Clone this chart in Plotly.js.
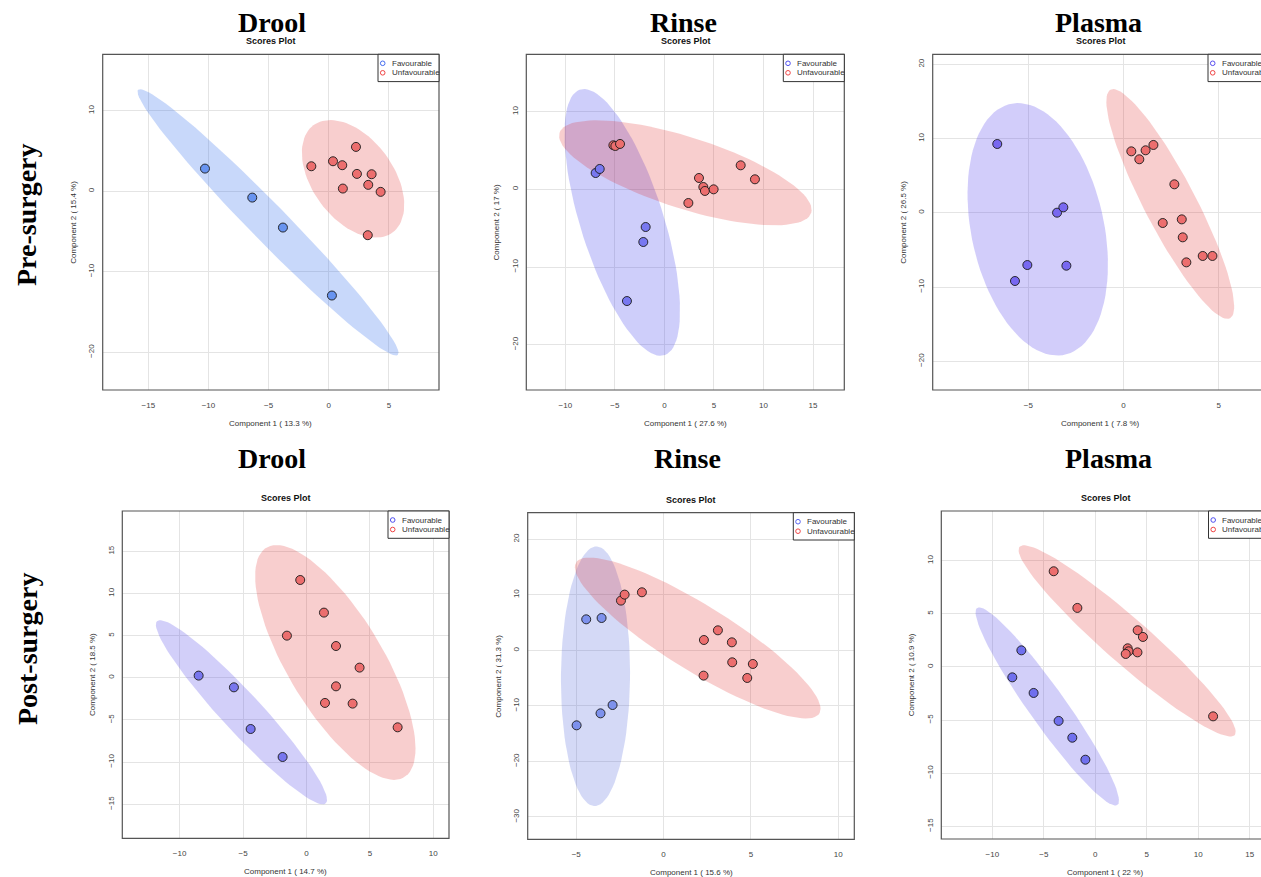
<!DOCTYPE html>
<html>
<head>
<meta charset="utf-8">
<script src="https://cdn.plot.ly/plotly-3.0.1.min.js"></script>
<style>html,body{margin:0;padding:0;background:#fff;}#chart{width:1261px;height:877px;}</style>
</head>
<body>
<div id="chart"></div>
<script>
// ---------- DATA ----------
const rowLabels = ['Pre-surgery', 'Post-surgery'];
const sampleTypes = ['Drool', 'Rinse', 'Plasma'];
const subTitle = 'Scores Plot';
const groupNames = ['Favourable', 'Unfavourable'];

const xTitles = ['Component 1 ( 13.3 %)', 'Component 1 ( 27.6 %)', 'Component 1 ( 7.8 %)',
                 'Component 1 ( 14.7 %)', 'Component 1 ( 15.6 %)', 'Component 1 ( 22 %)'];
const yTitles = ['Component 2 ( 15.4 %)', 'Component 2 ( 17 %)', 'Component 2 ( 26.5 %)',
                 'Component 2 ( 18.5 %)', 'Component 2 ( 31.3 %)', 'Component 2 ( 10.9 %)'];

// Pre-surgery Drool
const preDroolFavX = [-10.29, -6.36, -3.81, 0.26];
const preDroolFavY = [2.81, -0.79, -4.51, -12.95];
const preDroolUnfX = [-1.45, 0.35, 1.12, 2.26, 2.34, 3.56, 3.28, 1.17, 4.31, 3.24];
const preDroolUnfY = [3.10, 3.72, 3.23, 5.50, 2.15, 2.11, 0.79, 0.33, -0.08, -5.46];

// Pre-surgery Rinse
const preRinseFavX = [-6.94, -6.53, -1.89, -2.13, -3.78];
const preRinseFavY = [2.10, 2.62, -4.85, -6.78, -14.38];
const preRinseUnfX = [-5.15, -4.95, -4.48, 3.49, 3.93, 4.09, 4.97, 2.42, 7.70, 9.14];
const preRinseUnfY = [5.67, 5.58, 5.84, 1.46, 0.30, -0.21, 0.00, -1.76, 3.09, 1.29];

// Pre-surgery Plasma
const prePlasmaFavX = [-6.63, -3.49, -3.16, -5.05, -5.70, -3.00];
const prePlasmaFavY = [9.27, 0.02, 0.74, -7.03, -9.18, -7.12];
const prePlasmaUnfX = [0.41, 0.83, 1.16, 1.57, 2.67, 3.06, 2.06, 3.11, 3.30, 4.16, 4.67];
const prePlasmaUnfY = [8.28, 7.21, 8.42, 9.14, 3.84, -0.88, -1.37, -3.30, -6.67, -5.81, -5.81];

// Post-surgery Drool
const postDroolFavX = [-8.50, -5.72, -4.40, -1.88];
const postDroolFavY = [0.26, -1.13, -6.07, -9.39];
const postDroolUnfX = [-0.49, 1.38, -1.54, 2.33, 4.19, 2.33, 1.46, 3.64, 7.19];
const postDroolUnfY = [11.60, 7.73, 5.00, 3.77, 1.21, -1.01, -2.98, -3.06, -5.87];

// Post-surgery Rinse
const postRinseFavX = [-4.43, -3.55, -4.98, -3.61, -2.92];
const postRinseFavY = [5.59, 5.83, -13.50, -11.34, -9.84];
const postRinseUnfX = [-2.44, -2.23, -1.24, 2.31, 3.11, 3.91, 3.93, 5.11, 2.29, 4.79];
const postRinseUnfY = [8.96, 10.04, 10.46, 1.87, 3.61, 1.45, -2.15, -2.45, -4.55, -4.97];

// Post-surgery Plasma
const postPlasmaFavX = [-7.18, -8.06, -5.99, -3.56, -2.23, -0.96];
const postPlasmaFavY = [1.56, -0.98, -2.45, -5.08, -6.66, -8.73];
const postPlasmaUnfX = [-4.04, -1.74, 4.12, 4.63, 3.15, 3.24, 2.96, 4.10, 11.45];
const postPlasmaUnfY = [9.00, 5.55, 3.45, 2.82, 1.75, 1.47, 1.22, 1.37, -4.65];

// Tick values per panel
const xTickVals = [[-15, -10, -5, 0, 5], [-10, -5, 0, 5, 10, 15], [-5, 0, 5],
                   [-10, -5, 0, 5, 10], [-5, 0, 5, 10], [-10, -5, 0, 5, 10, 15]];
const yTickVals = [[-20, -10, 0, 10], [-20, -10, 0, 10], [-20, -10, 0, 10, 20],
                   [-15, -10, -5, 0, 5, 10, 15], [-30, -20, -10, 0, 10, 20], [-15, -10, -5, 0, 5, 10]];

const panelData = [
  [preDroolFavX, preDroolFavY, preDroolUnfX, preDroolUnfY],
  [preRinseFavX, preRinseFavY, preRinseUnfX, preRinseUnfY],
  [prePlasmaFavX, prePlasmaFavY, prePlasmaUnfX, prePlasmaUnfY],
  [postDroolFavX, postDroolFavY, postDroolUnfX, postDroolUnfY],
  [postRinseFavX, postRinseFavY, postRinseUnfX, postRinseUnfY],
  [postPlasmaFavX, postPlasmaFavY, postPlasmaUnfX, postPlasmaUnfY]
];

// ---------- LAYOUT / STYLE ----------
const W = 1261, H = 877;
const px = v => v / W;
const py = v => 1 - v / H;

// panel boxes in pixels and axis ranges
const panels = [
  {L: 102.7, R: 439.0, T: 54.3, B: 390.0, xr: [-18.79, 9.16], yr: [-24.68, 17.00], titleX: 271.5, titleY: 23, subX: 271, subY: 41,
   favPt: 'rgb(104,148,240)', favEl: 'rgba(35,100,235,0.25)', favLeg: 'rgb(70,110,240)'},
  {L: 526.3, R: 844.3, T: 54.3, B: 390.0, xr: [-13.94, 18.16], yr: [-25.83, 17.38], titleX: 683.5, titleY: 23, subX: 685.5, subY: 41,
   favPt: 'rgb(120,120,240)', favEl: 'rgba(60,60,235,0.25)', favLeg: 'rgb(80,80,240)'},
  {L: 932.7, R: 1269.0, T: 54.3, B: 390.0, xr: [-10.02, 7.64], yr: [-23.86, 21.35], titleX: 1098.5, titleY: 23, subX: 1100.5, subY: 41,
   favPt: 'rgb(120,104,240)', favEl: 'rgba(94,76,237,0.28)', favLeg: 'rgb(90,80,240)'},
  {L: 122.3, R: 449.0, T: 511.0, B: 838.3, xr: [-14.52, 11.24], yr: [-19.03, 19.78], titleX: 271.5, titleY: 458, subX: 285.7, subY: 498.5,
   favPt: 'rgb(120,118,238)', favEl: 'rgba(80,70,232,0.26)', favLeg: 'rgb(80,80,240)'},
  {L: 527.7, R: 854.3, T: 512.7, B: 839.3, xr: [-7.78, 10.92], yr: [-34.02, 24.79], titleX: 687.5, titleY: 458, subX: 691, subY: 500,
   favPt: 'rgb(125,145,236)', favEl: 'rgba(60,80,215,0.22)', favLeg: 'rgb(90,100,240)'},
  {L: 941.3, R: 1269.5, T: 511.0, B: 839.0, xr: [-14.96, 16.93], yr: [-16.19, 14.67], titleX: 1108, titleY: 458, subX: 1105.7, subY: 498.5,
   favPt: 'rgb(112,112,238)', favEl: 'rgba(80,70,232,0.26)', favLeg: 'rgb(80,80,240)'}
];
const unfPt = 'rgb(236,110,110)';
const unfEl = 'rgba(225,30,30,0.22)';
const unfLeg = 'rgb(240,70,70)';

// 95% confidence ellipse as in ellipse::ellipse(cov, centre, level=0.95)
function ellipse(xs, ys, level, n) {
  const m = xs.length;
  const mx = xs.reduce((a, b) => a + b, 0) / m;
  const my = ys.reduce((a, b) => a + b, 0) / m;
  let sxx = 0, syy = 0, sxy = 0;
  for (let i = 0; i < m; i++) {
    sxx += (xs[i] - mx) ** 2; syy += (ys[i] - my) ** 2; sxy += (xs[i] - mx) * (ys[i] - my);
  }
  sxx /= (m - 1); syy /= (m - 1); sxy /= (m - 1);
  const sx = Math.sqrt(sxx), sy = Math.sqrt(syy);
  const r = sxy / (sx * sy);
  const d = Math.acos(r);
  const t = Math.sqrt(-2 * Math.log(1 - level)); // sqrt(qchisq(level, 2))
  const ex = [], ey = [];
  for (let k = 0; k <= n; k++) {
    const a = 2 * Math.PI * k / n;
    ex.push(t * sx * Math.cos(a + d / 2) + mx);
    ey.push(t * sy * Math.cos(a - d / 2) + my);
  }
  return [ex, ey];
}

const traces = [];
const layout = {
  width: W, height: H,
  margin: {l: 0, r: 0, t: 0, b: 0},
  paper_bgcolor: '#ffffff', plot_bgcolor: '#ffffff',
  showlegend: false,
  font: {family: 'Liberation Sans, Arial, sans-serif', color: '#333'},
  shapes: [], annotations: []
};

const sansFont = 'Liberation Sans, Arial, sans-serif';
const serifFont = 'Liberation Serif, Times New Roman, serif';

panels.forEach((p, i) => {
  const k = i + 1;
  const xa = 'x' + (k === 1 ? '' : k), ya = 'y' + (k === 1 ? '' : k);
  const xKey = 'xaxis' + (k === 1 ? '' : k), yKey = 'yaxis' + (k === 1 ? '' : k);
  const Rvis = Math.min(p.R, W);
  const xr1 = p.xr[0] + (Rvis - p.L) * (p.xr[1] - p.xr[0]) / (p.R - p.L);

  layout[xKey] = {
    domain: [px(p.L), px(Rvis)], anchor: ya, range: [p.xr[0], xr1],
    tickvals: xTickVals[i], ticks: '', showline: false, zeroline: false,
    showgrid: true, gridcolor: '#e4e4e4', gridwidth: 1,
    tickfont: {size: 8, color: '#444', family: sansFont}, ticklabelstandoff: 9
  };
  layout[yKey] = {
    domain: [py(p.B), py(p.T)], anchor: xa, range: p.yr,
    tickvals: yTickVals[i], ticks: '', showline: false, zeroline: false,
    showgrid: true, gridcolor: '#e4e4e4', gridwidth: 1, tickangle: -90,
    tickfont: {size: 8, color: '#444', family: sansFont}, ticklabelstandoff: 6
  };

  const [fx, fy, ux, uy] = panelData[i];
  const [efx, efy] = ellipse(fx, fy, 0.95, 100);
  const [eux, euy] = ellipse(ux, uy, 0.95, 100);
  traces.push({x: efx, y: efy, xaxis: xa, yaxis: ya, type: 'scatter', mode: 'lines', fill: 'toself',
               fillcolor: p.favEl, line: {width: 0, color: 'rgba(0,0,0,0)'}, hoverinfo: 'skip'});
  traces.push({x: eux, y: euy, xaxis: xa, yaxis: ya, type: 'scatter', mode: 'lines', fill: 'toself',
               fillcolor: unfEl, line: {width: 0, color: 'rgba(0,0,0,0)'}, hoverinfo: 'skip'});
  traces.push({x: fx, y: fy, xaxis: xa, yaxis: ya, type: 'scatter', mode: 'markers', name: groupNames[0],
               marker: {size: 9, color: p.favPt, line: {color: 'rgba(25,25,25,0.9)', width: 1}}});
  traces.push({x: ux, y: uy, xaxis: xa, yaxis: ya, type: 'scatter', mode: 'markers', name: groupNames[1],
               marker: {size: 9, color: unfPt, line: {color: 'rgba(25,25,25,0.9)', width: 1}}});

  // frame
  layout.shapes.push({type: 'rect', xref: 'paper', yref: 'paper', x0: px(p.L), x1: px(p.R), y0: py(p.B), y1: py(p.T),
                      line: {color: '#555', width: 1.2}, fillcolor: 'rgba(0,0,0,0)', layer: 'above'});
  // legend box
  const lx0 = p.R - 61, lx1 = p.R, ly0 = p.T, ly1 = p.T + 27.3;
  layout.shapes.push({type: 'rect', xref: 'paper', yref: 'paper', x0: px(lx0), x1: px(lx1), y0: py(ly1), y1: py(ly0),
                      line: {color: '#333', width: 1}, fillcolor: '#ffffff', layer: 'above'});
  const legCols = [p.favLeg, unfLeg];
  [9, 18.5].forEach((dy, j) => {
    layout.shapes.push({type: 'circle', xref: 'paper', yref: 'paper', xsizemode: 'pixel', ysizemode: 'pixel',
                        xanchor: px(p.R - 56.3), yanchor: py(p.T + dy), x0: -2.3, x1: 2.3, y0: -2.3, y1: 2.3,
                        line: {color: legCols[j], width: 1}, fillcolor: 'rgba(0,0,0,0)', layer: 'above'});
    layout.annotations.push({xref: 'paper', yref: 'paper', x: px(p.R - 49.5), y: py(p.T + dy), xanchor: 'left', yanchor: 'middle',
                             text: groupNames[j], showarrow: false, font: {size: 8, color: '#333', family: sansFont}});
  });

  // titles
  layout.annotations.push({xref: 'paper', yref: 'paper', x: px(p.titleX), y: py(p.titleY), xanchor: 'center', yanchor: 'middle',
                           text: '<b>' + sampleTypes[i % 3] + '</b>', showarrow: false, font: {size: 28, color: '#000', family: serifFont}});
  layout.annotations.push({xref: 'paper', yref: 'paper', x: px(p.subX), y: py(p.subY), xanchor: 'center', yanchor: 'middle',
                           text: '<b>' + subTitle + '</b>', showarrow: false, font: {size: 9, color: '#111', family: sansFont}});
  // axis titles
  layout.annotations.push({xref: 'paper', yref: 'paper', x: px((p.L + p.R) / 2), y: py(p.B + 33), xanchor: 'center', yanchor: 'middle',
                           text: xTitles[i], showarrow: false, font: {size: 8, color: '#333', family: sansFont}});
  layout.annotations.push({xref: 'paper', yref: 'paper', x: px(p.L - 30), y: py((p.T + p.B) / 2), xanchor: 'center', yanchor: 'middle',
                           text: yTitles[i], textangle: -90, showarrow: false, font: {size: 8, color: '#333', family: sansFont}});
});

// row labels
[215, 649].forEach((yy, j) => {
  layout.annotations.push({xref: 'paper', yref: 'paper', x: px(27), y: py(yy), xanchor: 'center', yanchor: 'middle',
                           text: '<b>' + rowLabels[j] + '</b>', textangle: -90, showarrow: false,
                           font: {size: 28, color: '#000', family: serifFont}});
});

Plotly.newPlot('chart', traces, layout, {staticPlot: true, displayModeBar: false});
</script>
</body>
</html>
